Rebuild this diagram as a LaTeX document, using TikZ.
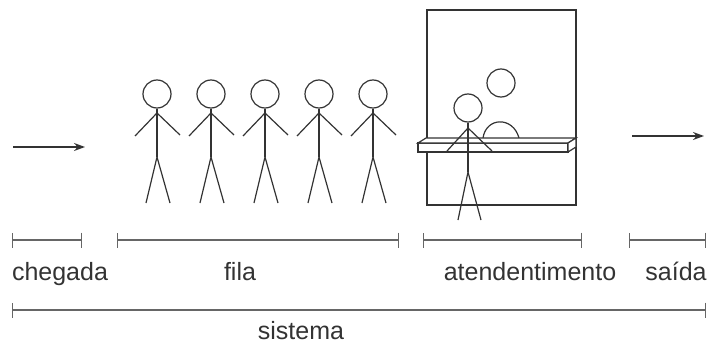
\documentclass[tikz,border=0pt]{standalone}
\usepackage{fontspec}
\setmainfont{Liberation Sans}
\usetikzlibrary{arrows.meta}

\begin{document}
\begin{tikzpicture}[
    x=1pt, y=-1pt,
    every node/.style={font=\fontsize{25}{28}\selectfont},
    dau/.style={circle,draw=black!80,line width=1.2pt,minimum size=28pt,inner sep=0pt},
    net/.style={line width=1.2pt,draw=black!80},
    thuoc/.style={line width=1.3pt,draw=black!60,{Bar[width=15pt]}-{Bar[width=15pt]}},
    muiten/.style={line width=1.4pt,draw=black!80,-{Stealth[length=11pt,width=8pt]}},
    nhan/.style={anchor=base,text=black!80,inner sep=0pt}
]
\useasboundingbox (0,0) rectangle (707,345);

% Hàng người đang chờ
\foreach \i/\x in {1/157,2/211,3/265,4/319,5/373} {
    \node[dau] (q\i) at (\x,94) {};
    \coordinate (vai\i) at (\x,113);
    \coordinate (hong\i) at (\x,157);
    \draw[net] (q\i.south) -- (hong\i);
    \draw[net] (\x-22,136) -- (vai\i) -- (\x+23,135);
    \draw[net] (\x-11,203) -- (hong\i) -- (\x+13,203);
}

% Quầy phục vụ
\draw[net] (427,10) rectangle (576,205);
\node[dau] (nv) at (501,83) {};
\draw[net] (483,138) .. controls (486,117) and (513,116) .. (519,138);
\draw[net,fill=white] (418,143) rectangle (568,152);
\draw[net,fill=white] (418,143) -- (426,138) -- (576,138) -- (568,143) -- cycle;
\draw[net,fill=white] (568,143) -- (576,138) -- (576,147) -- (568,152) -- cycle;

% Người đang được phục vụ
\node[dau] (kh) at (468,108) {};
\coordinate (vaiKh) at (468,128);
\coordinate (hongKh) at (468,172);
\draw[net] (kh.south) -- (hongKh);
\draw[net] (447,151) -- (vaiKh) -- (492,151);
\draw[net] (458,220) -- (hongKh) -- (481,220);

% Mũi tên vào và ra
\coordinate (vao1) at (13,147);
\coordinate (vao2) at (85,147);
\coordinate (ra1) at (632,136);
\coordinate (ra2) at (704,136);
\draw[muiten] (vao1) -- (vao2);
\draw[muiten] (ra1) -- (ra2);

% Các đoạn thời gian
\coordinate (c1) at (12,240);  \coordinate (c2) at (82,240);
\coordinate (f1) at (117,240); \coordinate (f2) at (399,240);
\coordinate (a1) at (423,240); \coordinate (a2) at (582,240);
\coordinate (s1) at (629,240); \coordinate (s2) at (706,240);
\coordinate (h1) at (12,310);  \coordinate (h2) at (706,310);
\draw[thuoc] (c1) -- (c2);
\draw[thuoc] (f1) -- (f2);
\draw[thuoc] (a1) -- (a2);
\draw[thuoc] (s1) -- (s2);
\draw[thuoc] (h1) -- (h2);

% Nhãn
\node[nhan] (lbC) at (60,280) {chegada};
\node[nhan] (lbF) at (240,280) {fila};
\node[nhan] (lbA) at (530,280) {atendentimento};
\node[nhan] (lbS) at (676,280) {saída};
\node[nhan] (lbH) at (301,339) {sistema};
\end{tikzpicture}
\end{document}
